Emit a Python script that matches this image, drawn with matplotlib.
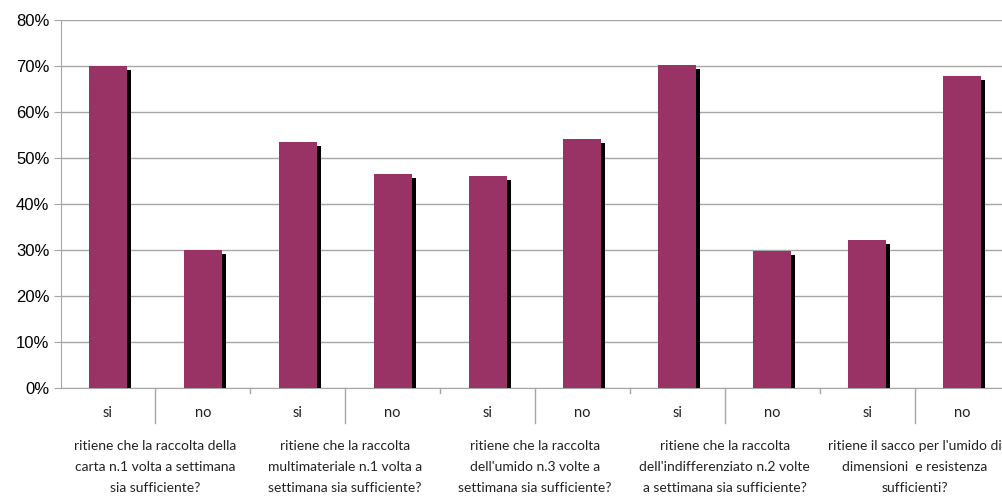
import matplotlib
matplotlib.use("Agg")
import matplotlib.pyplot as plt
import matplotlib.transforms as mtransforms
import numpy as np

# dati
risposte = ["si", "no", "si", "no", "si", "no", "si", "no", "si", "no"]
valori = [70.0, 30.0, 53.5, 46.5, 46.1, 54.1, 70.2, 29.8, 32.2, 67.8]
domande = [
    "ritiene che la raccolta della\ncarta n.1 volta a settimana\nsia sufficiente?",
    "ritiene che la raccolta\nmultimateriale n.1 volta a\nsettimana sia sufficiente?",
    "ritiene che la raccolta\ndell'umido n.3 volte a\nsettimana sia sufficiente?",
    "ritiene che la raccolta\ndell'indifferenziato n.2 volte\na settimana sia sufficiente?",
    "ritiene il sacco per l'umido di\ndimensioni  e resistenza\nsufficienti?",
]
yticks = [0, 10, 20, 30, 40, 50, 60, 70, 80]

W, H = 1002, 497
fig = plt.figure(figsize=(W / 100, H / 100), dpi=100)
# area del grafico in pixel: x 60.5 -> 1009.5, y 20 -> 388
ax = fig.add_axes([60.5 / W, (H - 388) / H, 949 / W, 368 / H])

x = np.arange(len(valori))
larg = 0.4
# ombra nera spostata di ~4px a destra e in basso
dx = 4 / 94.9
dy = 4 / 4.6
ax.bar(x + dx, np.array(valori) - dy, width=larg, color="black", zorder=2)
ax.bar(x, valori, width=larg, color="#993366", zorder=3)

ax.set_xlim(-0.5, len(valori) - 0.5)
ax.set_ylim(0, 80)
ax.set_yticks(yticks)
ax.set_yticklabels([f"{v}%" for v in yticks], family="Liberation Sans", fontsize=12)
ax.yaxis.grid(True, color="#A6A6A6", linewidth=1)
ax.set_axisbelow(True)
ax.tick_params(axis="y", length=5, color="#A6A6A6", pad=3)
ax.set_xticks([])

for s in ["top", "right"]:
    ax.spines[s].set_visible(False)
ax.spines["left"].set_color("#A6A6A6")
ax.spines["bottom"].set_color("#A6A6A6")

trans = mtransforms.blended_transform_factory(ax.transData, ax.transAxes)
# separatori sotto l'asse
for i in range(1, len(valori)):
    if i % 2 == 1:
        y2 = -35 / 368
    else:
        y2 = -5 / 368
    ax.plot([i - 0.5, i - 0.5], [0, y2], color="#A6A6A6", lw=1,
            transform=trans, clip_on=False)

for i, r in enumerate(risposte):
    ax.text(i, -25 / 368, r, transform=trans, ha="center", va="center",
            family="Lato", fontsize=10.5, color="#222222")

for g, d in enumerate(domande):
    ax.text(2 * g + 0.5, -52 / 368, d, transform=trans, ha="center", va="top",
            family="Lato", fontsize=10, color="#222222", linespacing=1.88)

fig.savefig("out.png", dpi=100)
